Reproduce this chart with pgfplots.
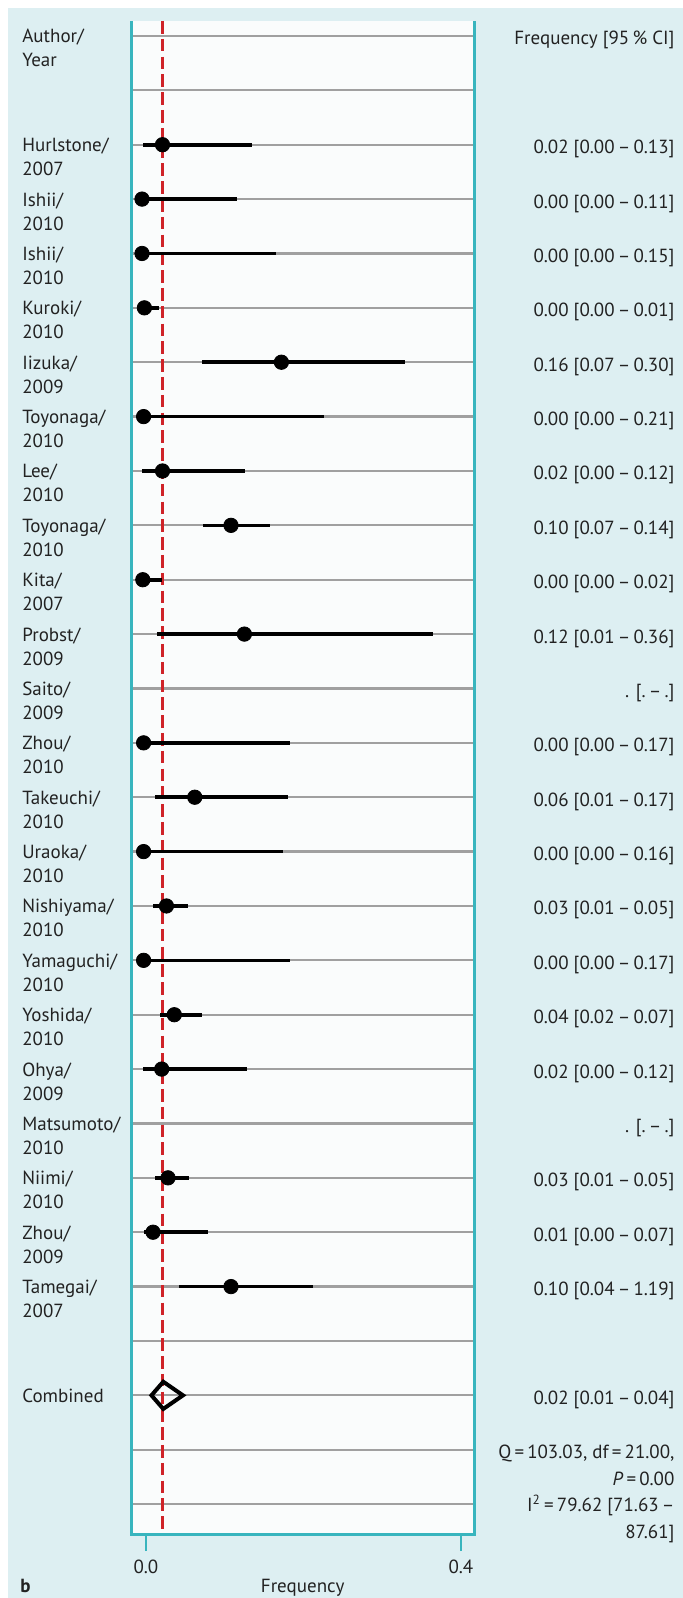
\documentclass[border=0pt]{standalone}
\usepackage{fontspec}
\setmainfont{PT Sans}
\usepackage{pgfplots}
\usepackage{pgfplotstable}
\pgfplotsset{compat=1.18}
\definecolor{bgblue}{HTML}{DDEFF2}
\definecolor{plotbg}{HTML}{FAFCFC}
\definecolor{tealc}{HTML}{38B5BE}
\definecolor{rowgray}{HTML}{A0A0A0}
\definecolor{redline}{HTML}{CF2328}
\definecolor{txt}{HTML}{222222}

\pgfplotstableread{
row est lo hi
2 0.021 -0.004 0.135
3 -0.005 -0.005 0.116
4 -0.005 -0.005 0.165
5 -0.002 -0.002 0.017
6 0.172 0.0715 0.329
7 -0.003 -0.003 0.226
8 0.021 -0.005 0.126
9 0.108 0.072 0.158
10 -0.004 -0.004 0.021
11 0.125 0.0135 0.365
13 -0.003 -0.003 0.183
14 0.062 0.011 0.180
15 -0.003 -0.003 0.174
16 0.026 0.009 0.054
17 -0.003 -0.003 0.183
18 0.036 0.018 0.071
19 0.020 -0.004 0.128
21 0.028 0.012 0.055
22 0.009 -0.002 0.079
23 0.108 0.042 0.212
}\studies

\newcommand{\fs}{\fontsize{9.5}{11.4}\selectfont}
\tikzset{lbl/.style={anchor=base west, font=\fs, text=txt, inner sep=0pt},
         rlb/.style={anchor=base east, font=\fs, text=txt, inner sep=0pt}}
\newcommand{\lab}[3]{%
  \node[lbl, yshift=-3.5pt] at (axis cs:-0.1575,-#1) {#2};
  \node[lbl, yshift=-15.5pt] at (axis cs:-0.1575,-#1) {#3};}
\newcommand{\rlab}[2]{%
  \node[rlb, yshift=-4.5pt] at (axis cs:0.6717,-#1) {#2};}

\begin{document}
\begin{tikzpicture}
\fill[white] (-65.5pt,-32pt) rectangle (276pt,767pt);
\fill[bgblue] (-61.5pt,-32pt) rectangle (276pt,763pt);
\begin{axis}[
  at={(0,0)}, anchor=south west,
  scale only axis, width=171.65pt, height=756.5pt,
  xmin=-0.019, xmax=0.417, ymin=-27.55, ymax=0.276,
  axis line style={draw=none},
  axis background/.style={fill=plotbg},
  xtick={0,0.4}, xticklabels={0.0,0.4},
  xtick pos=left, tick align=outside, major tick length=8.5pt,
  x tick style={tealc, line width=1pt},
  ytick={-27,-26,...,0}, yticklabels=\empty,
  y tick style={draw=none},
  ymajorgrids, grid style={rowgray, line width=1.1pt},
  x tick label style={font=\fs, text=txt, yshift=-1pt},
  clip=false,
]
\addplot[redline, line width=1.1pt, dash pattern=on 6.3pt off 2.6pt] coordinates {(0.021,0.276) (0.021,-27.45)};
\addplot[only marks, mark=*, mark size=3.6pt, black,
  error bars/.cd, x dir=both, x explicit, error mark=none,
  error bar style={line width=1.8pt, black}]
  table[x=est, y expr=-\thisrow{row},
        x error minus expr=\thisrow{est}-\thisrow{lo},
        x error plus expr=\thisrow{hi}-\thisrow{est}] {\studies};
\addplot[black, line width=2pt, line join=miter] coordinates {(0.007,-25) (0.022,-24.75) (0.047,-25) (0.022,-25.25) (0.007,-25) (0.022,-24.75)};
\draw[tealc, line width=1.5pt] (rel axis cs:0,1) -- (rel axis cs:0,0) -- (rel axis cs:1,0) -- (rel axis cs:1,1);
% left labels
\lab{0}{Author/}{Year}
\lab{2}{Hurlstone/}{2007}
\lab{3}{Ishii/}{2010}
\lab{4}{Ishii/}{2010}
\lab{5}{Kuroki/}{2010}
\lab{6}{Iizuka/}{2009}
\lab{7}{Toyonaga/}{2010}
\lab{8}{Lee/}{2010}
\lab{9}{Toyonaga/}{2010}
\lab{10}{Kita/}{2007}
\lab{11}{Probst/}{2009}
\lab{12}{Saito/}{2009}
\lab{13}{Zhou/}{2010}
\lab{14}{Takeuchi/}{2010}
\lab{15}{Uraoka/}{2010}
\lab{16}{Nishiyama/}{2010}
\lab{17}{Yamaguchi/}{2010}
\lab{18}{Yoshida/}{2010}
\lab{19}{Ohya/}{2009}
\lab{20}{Matsumoto/}{2010}
\lab{21}{Niimi/}{2010}
\lab{22}{Zhou/}{2009}
\lab{23}{Tamegai/}{2007}
\node[lbl, yshift=-3.5pt] at (axis cs:-0.1575,-25) {Combined};
% right labels
\rlab{0}{Frequency [95\,\% CI]}
\rlab{2}{0.02 [0.00\,\textendash\,0.13]}
\rlab{3}{0.00 [0.00\,\textendash\,0.11]}
\rlab{4}{0.00 [0.00\,\textendash\,0.15]}
\rlab{5}{0.00 [0.00\,\textendash\,0.01]}
\rlab{6}{0.16 [0.07\,\textendash\,0.30]}
\rlab{7}{0.00 [0.00\,\textendash\,0.21]}
\rlab{8}{0.02 [0.00\,\textendash\,0.12]}
\rlab{9}{0.10 [0.07\,\textendash\,0.14]}
\rlab{10}{0.00 [0.00\,\textendash\,0.02]}
\rlab{11}{0.12 [0.01\,\textendash\,0.36]}
\rlab{12}{. [.\,\textendash\,.]}
\rlab{13}{0.00 [0.00\,\textendash\,0.17]}
\rlab{14}{0.06 [0.01\,\textendash\,0.17]}
\rlab{15}{0.00 [0.00\,\textendash\,0.16]}
\rlab{16}{0.03 [0.01\,\textendash\,0.05]}
\rlab{17}{0.00 [0.00\,\textendash\,0.17]}
\rlab{18}{0.04 [0.02\,\textendash\,0.07]}
\rlab{19}{0.02 [0.00\,\textendash\,0.12]}
\rlab{20}{. [.\,\textendash\,.]}
\rlab{21}{0.03 [0.01\,\textendash\,0.05]}
\rlab{22}{0.01 [0.00\,\textendash\,0.07]}
\rlab{23}{0.10 [0.04\,\textendash\,1.19]}
\rlab{25}{0.02 [0.01\,\textendash\,0.04]}
\node[rlb, yshift=-4.5pt] at (axis cs:0.6717,-26) {Q\,=\,103.03, df\,=\,21.00,};
\node[rlb, yshift=-17.8pt] at (axis cs:0.6717,-26) {\textit{P}\,=\,0.00};
\node[rlb, yshift=-31.1pt] at (axis cs:0.6717,-26) {I\textsuperscript{2}\,=\,79.62 [71.63\,\textendash};
\node[rlb, yshift=-44.4pt] at (axis cs:0.6717,-26) {87.61]};
% axis label and panel letter
\node[font=\fs, text=txt, anchor=base] at (rel axis cs:0.5,0) [yshift=-29pt] {Frequency};
\node[font=\fs\bfseries, text=txt, anchor=base west, inner sep=0pt] at (rel axis cs:0,0) [xshift=-55.5pt, yshift=-29pt] {b};
\end{axis}
\pgfresetboundingbox
\useasboundingbox (-65.5pt,-32pt) rectangle (276pt,767pt);
\end{tikzpicture}
\end{document}
